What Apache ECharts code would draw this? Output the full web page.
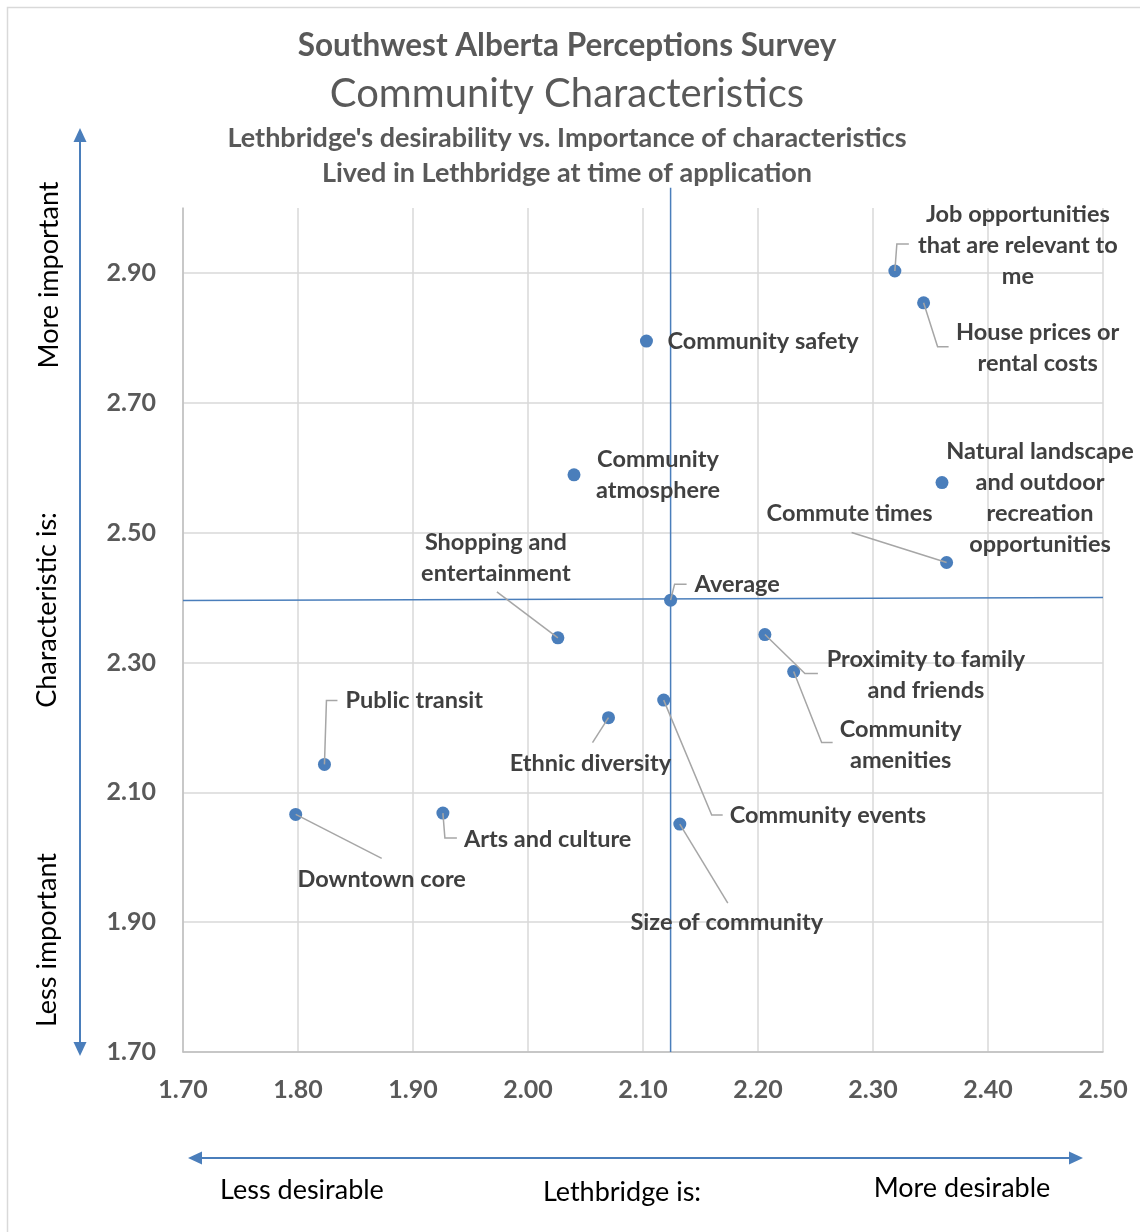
<!DOCTYPE html>
<html>
<head>
<meta charset="utf-8">
<title>Community Characteristics</title>
<script src="https://cdn.jsdelivr.net/npm/echarts@6/dist/echarts.min.js"></script>
<style>
  html, body { margin: 0; padding: 0; background: #ffffff; }
  #chart { width: 1140px; height: 1232px; }
</style>
</head>
<body>
<div id="chart"></div>
<script>
// Lethbridge desirability (x) vs. importance of each characteristic (y)
const characteristics = [
  'Job opportunities\nthat are relevant to\nme',
  'House prices or\nrental costs',
  'Community safety',
  'Community\natmosphere',
  'Natural landscape\nand outdoor\nrecreation\nopportunities',
  'Commute times',
  'Average',
  'Shopping and\nentertainment',
  'Proximity to family\nand friends',
  'Community\namenities',
  'Community events',
  'Ethnic diversity',
  'Public transit',
  'Downtown core',
  'Arts and culture',
  'Size of community'
];
const desirability = [2.319, 2.344, 2.103, 2.040, 2.360, 2.364, 2.124, 2.026, 2.206, 2.231, 2.118, 2.070, 1.823, 1.798, 1.926, 2.132];
const importance   = [2.903, 2.854, 2.795, 2.589, 2.577, 2.454, 2.396, 2.338, 2.343, 2.286, 2.242, 2.215, 2.143, 2.066, 2.068, 2.051];

// Average reference lines
const avgVertical   = [[2.124, 1.70], [2.124, 3.031]];
const avgHorizontal = [[1.70, 2.3954], [2.50, 2.400]];

// Axis ranges / tick steps
const xTicks = { min: 1.70, max: 2.50, step: 0.10 };
const yTicks = { min: 1.70, max: 3.00, step: 0.20 };

// Label placement relative to each point (pixels) and leader-line bends
const labelPlacement = [
  { dx: 123, dy: -26, align: 'center', leader: [[0, 0], [2, -27], [14, -27]] },
  { dx: 114, dy: 45.5, align: 'center', leader: [[0, 0], [14, 44], [25, 44]] },
  { dx: 21, dy: 0, align: 'left', leader: null },
  { dx: 84, dy: 0.5, align: 'center', leader: null },
  { dx: 98, dy: 15.5, align: 'center', leader: null },
  { dx: -97, dy: -49, align: 'center', leader: [[0, 0], [-95, -30]] },
  { dx: 24, dy: -16, align: 'left', leader: [[0, 0], [4, -16], [16, -16]] },
  { dx: -62, dy: -79.5, align: 'center', leader: [[0, 0], [-61, -46]] },
  { dx: 161, dy: 40.5, align: 'center', leader: [[0, 0], [40, 39], [53, 39]] },
  { dx: 107, dy: 73, align: 'center', leader: [[0, 0], [28, 71], [39, 71]] },
  { dx: 66, dy: 115, align: 'left', leader: [[0, 0], [48, 115], [59, 115]] },
  { dx: -18, dy: 46, align: 'center', leader: [[0, 0], [-16, 25]] },
  { dx: 21, dy: -64, align: 'left', leader: [[0, 0], [2, -64], [13, -64]] },
  { dx: 86, dy: 65, align: 'center', leader: [[0, 0], [86, 44]] },
  { dx: 21, dy: 26, align: 'left', leader: [[0, 0], [2, 25], [14, 25]] },
  { dx: 47, dy: 98, align: 'center', leader: [[0, 0], [48, 79]] }
];

const FONT = 'Lato, "Open Sans", "Noto Sans", sans-serif';
const BLUE = '#4a7ebb';
const points = desirability.map((x, i) => [x, importance[i], i]);

const chart = echarts.init(document.getElementById('chart'), null, { renderer: 'canvas' });

function arrowHead(tip, dir) {
  // dir: 'up' | 'down' | 'left' | 'right'
  const [x, y] = tip, L = 14, W = 6.5;
  if (dir === 'up') return [[x, y], [x - W, y + L], [x + W, y + L]];
  if (dir === 'down') return [[x, y], [x - W, y - L], [x + W, y - L]];
  if (dir === 'left') return [[x, y], [x + L, y - W], [x + L, y + W]];
  return [[x, y], [x - L, y - W], [x - L, y + W]];
}

const titleText = (text, y, size, weight) => ({
  type: 'text', x: 567, y: y,
  style: { text, font: `${weight} ${size}px ${FONT}`, fill: '#595959', align: 'center', verticalAlign: 'middle' }
});
const sideText = (text, x, y) => ({
  type: 'text', x, y, rotation: Math.PI / 2,
  style: { text, font: `400 27px ${FONT}`, fill: '#000000', align: 'center', verticalAlign: 'middle' }
});
const bottomText = (text, x, y) => ({
  type: 'text', x, y,
  style: { text, font: `400 27px ${FONT}`, fill: '#000000', align: 'center', verticalAlign: 'middle' }
});

chart.setOption({
  animation: false,
  backgroundColor: '#ffffff',
  grid: { left: 183, right: 37, top: 208, bottom: 180, containLabel: false },
  xAxis: {
    type: 'value', min: xTicks.min, max: xTicks.max, interval: xTicks.step,
    axisLine: { show: true, lineStyle: { color: '#bfbfbf', width: 1.5 } },
    axisTick: { show: false },
    splitLine: { show: true, lineStyle: { color: '#d9d9d9', width: 1.5 } },
    axisLabel: {
      margin: 25, color: '#595959', fontFamily: FONT, fontWeight: 'bold', fontSize: 25,
      formatter: v => v.toFixed(2)
    }
  },
  yAxis: {
    type: 'value', min: yTicks.min, max: yTicks.max, interval: yTicks.step,
    axisLine: { show: true, lineStyle: { color: '#bfbfbf', width: 1.5 } },
    axisTick: { show: false },
    splitLine: { show: true, showMaxLine: false, lineStyle: { color: '#d9d9d9', width: 1.5 } },
    axisLabel: {
      margin: 27, color: '#595959', fontFamily: FONT, fontWeight: 'bold', fontSize: 25,
      showMaxLabel: false,
      formatter: v => v.toFixed(2)
    }
  },
  series: [
    {
      type: 'line', data: avgHorizontal, clip: false, symbol: 'none', silent: true, z: 1,
      lineStyle: { color: BLUE, width: 1.5 }
    },
    {
      type: 'line', data: avgVertical, clip: false, symbol: 'none', silent: true, z: 1,
      lineStyle: { color: BLUE, width: 1.5 }
    },
    {
      type: 'scatter', data: points, symbolSize: 13, z: 2,
      itemStyle: { color: BLUE, opacity: 1 }
    },
    {
      type: 'custom', data: points, z: 3, silent: true, clip: false,
      encode: { x: 0, y: 1 },
      renderItem: function (params, api) {
        const i = api.value(2);
        const p = api.coord([api.value(0), api.value(1)]);
        const lay = labelPlacement[i];
        const children = [];
        if (lay.leader) {
          children.push({
            type: 'polyline',
            shape: { points: lay.leader.map(d => [p[0] + d[0], p[1] + d[1]]) },
            style: { stroke: '#a6a6a6', lineWidth: 1.5, fill: null }
          });
        }
        children.push({
          type: 'text', x: p[0] + lay.dx, y: p[1] + lay.dy,
          style: {
            text: characteristics[i], font: `700 23.5px ${FONT}`, fill: '#404040',
            align: lay.align, verticalAlign: 'middle', lineHeight: 31
          }
        });
        return { type: 'group', children };
      }
    }
  ],
  graphic: [
    { type: 'rect', shape: { x: 7.5, y: 7.5, width: 1200, height: 1300 },
      style: { fill: null, stroke: '#d9d9d9', lineWidth: 1.5 }, silent: true },
    titleText('Southwest Alberta Perceptions Survey', 46, 31.5, 700),
    titleText('Community Characteristics', 94, 40, 400),
    titleText("Lethbridge's desirability vs. Importance of characteristics", 138, 27, 700),
    titleText('Lived in Lethbridge at time of application', 173, 27, 700),
    // vertical importance arrow
    { type: 'line', shape: { x1: 80, y1: 138, x2: 80, y2: 1046 }, style: { stroke: BLUE, lineWidth: 2 } },
    { type: 'polygon', shape: { points: arrowHead([80, 128], 'up') }, style: { fill: BLUE } },
    { type: 'polygon', shape: { points: arrowHead([80, 1056], 'down') }, style: { fill: BLUE } },
    // horizontal desirability arrow
    { type: 'line', shape: { x1: 198, y1: 1158, x2: 1073, y2: 1158 }, style: { stroke: BLUE, lineWidth: 2 } },
    { type: 'polygon', shape: { points: arrowHead([188, 1158], 'left') }, style: { fill: BLUE } },
    { type: 'polygon', shape: { points: arrowHead([1083, 1158], 'right') }, style: { fill: BLUE } },
    sideText('More important', 49, 275),
    sideText('Characteristic is:', 47, 610),
    sideText('Less important', 47, 940),
    bottomText('Less desirable', 302, 1190),
    bottomText('Lethbridge is:', 622, 1192),
    bottomText('More desirable', 962, 1188)
  ]
});
</script>
</body>
</html>
